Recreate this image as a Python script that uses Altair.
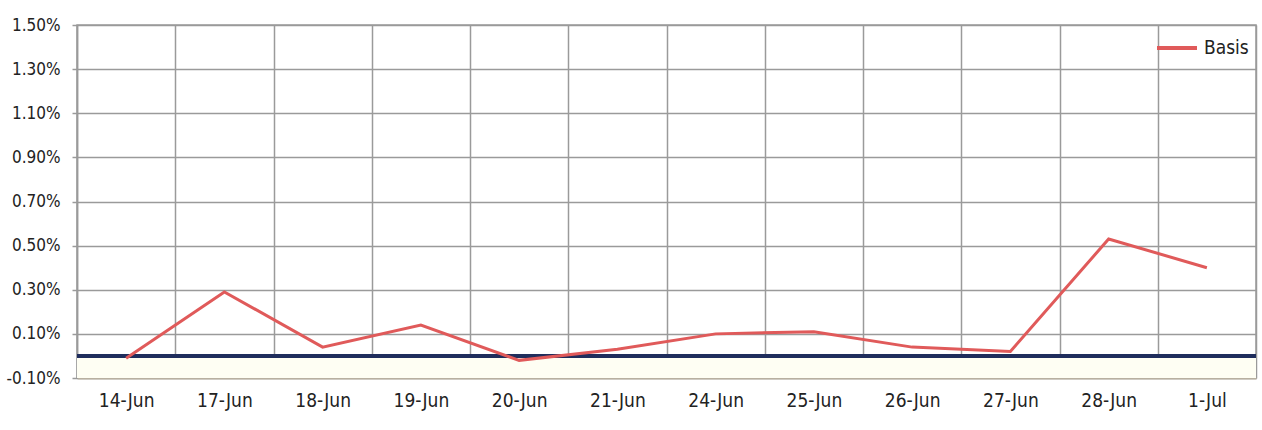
import altair as alt
import pandas as pd

dates = ["14-Jun", "17-Jun", "18-Jun", "19-Jun", "20-Jun", "21-Jun",
         "24-Jun", "25-Jun", "26-Jun", "27-Jun", "28-Jun", "1-Jul"]
basis = [-0.0001, 0.0029, 0.0004, 0.0014, -0.0002, 0.0003,
         0.0010, 0.0011, 0.0004, 0.0002, 0.0053, 0.0040]
y_ticks = [-0.001, 0.001, 0.003, 0.005, 0.007, 0.009, 0.011, 0.013, 0.015]

FONT = "Liberation Sans Narrow, Arial Narrow, DejaVu Sans Condensed, sans-serif"
Y_SCALE = alt.Scale(domain=[-0.001, 0.015], nice=False, zero=False)

df = pd.DataFrame({"date": dates, "basis": basis, "series": "Basis"})

x_enc = alt.X("date:N", sort=dates, title=None,
              scale=alt.Scale(paddingInner=0, paddingOuter=0),
              axis=alt.Axis(tickBand="extent", grid=True, gridColor="#9a9a9a",
                            gridWidth=1.5, ticks=False, labelAngle=0,
                            labelFont=FONT, labelFontSize=19,
                            labelColor="#222222", labelPadding=13,
                            domainColor="#b8b0a0", domainWidth=2))
y_enc = alt.Y("basis:Q", title=None, scale=Y_SCALE,
              axis=alt.Axis(values=y_ticks, grid=True, gridColor="#9a9a9a",
                            gridWidth=1.5, tickColor="#9a9a9a", tickSize=5,
                            tickWidth=1.5, domainColor="#9a9a9a",
                            domainWidth=1.5,
                            labelExpr="(datum.value < 0 ? '-' : '') + format(abs(datum.value), '.2%')",
                            labelFont=FONT, labelFontSize=17,
                            labelColor="#222222", labelPadding=12))

# faint tint on the band below zero
band = alt.Chart(pd.DataFrame({"lo": [-0.001], "hi": [0.0]})).mark_rect(
    color="#fefef3").encode(
    x=alt.value(0), x2=alt.value(1179),
    y=alt.Y("lo:Q", scale=Y_SCALE), y2="hi:Q")

line = alt.Chart(df).mark_line(strokeWidth=3).encode(
    x=x_enc, y=y_enc,
    color=alt.Color("series:N", title=None,
                    scale=alt.Scale(domain=["Basis"], range=["#e05a5a"]),
                    legend=alt.Legend(orient="none", legendX=1078, legendY=1,
                                      symbolType="stroke", symbolSize=1600,
                                      symbolStrokeWidth=4, labelFont=FONT,
                                      labelFontSize=19, labelColor="#222222",
                                      labelOffset=5, padding=0)))

zero_line = alt.Chart(pd.DataFrame({"z": [0.0]})).mark_rule(
    color="#1f2d5c", strokeWidth=4).encode(
    y=alt.Y("z:Q", scale=Y_SCALE))

chart = alt.layer(band, zero_line, line).properties(
    width=1179, height=353,
    autosize=alt.AutoSizeParams(type="none"),
    padding={"left": 77, "top": 25, "right": 6, "bottom": 52},
    background="white",
).configure_view(stroke="#9a9a9a", strokeWidth=1.5)

chart.save("out.html", embed_options={"renderer": "svg", "actions": False})
